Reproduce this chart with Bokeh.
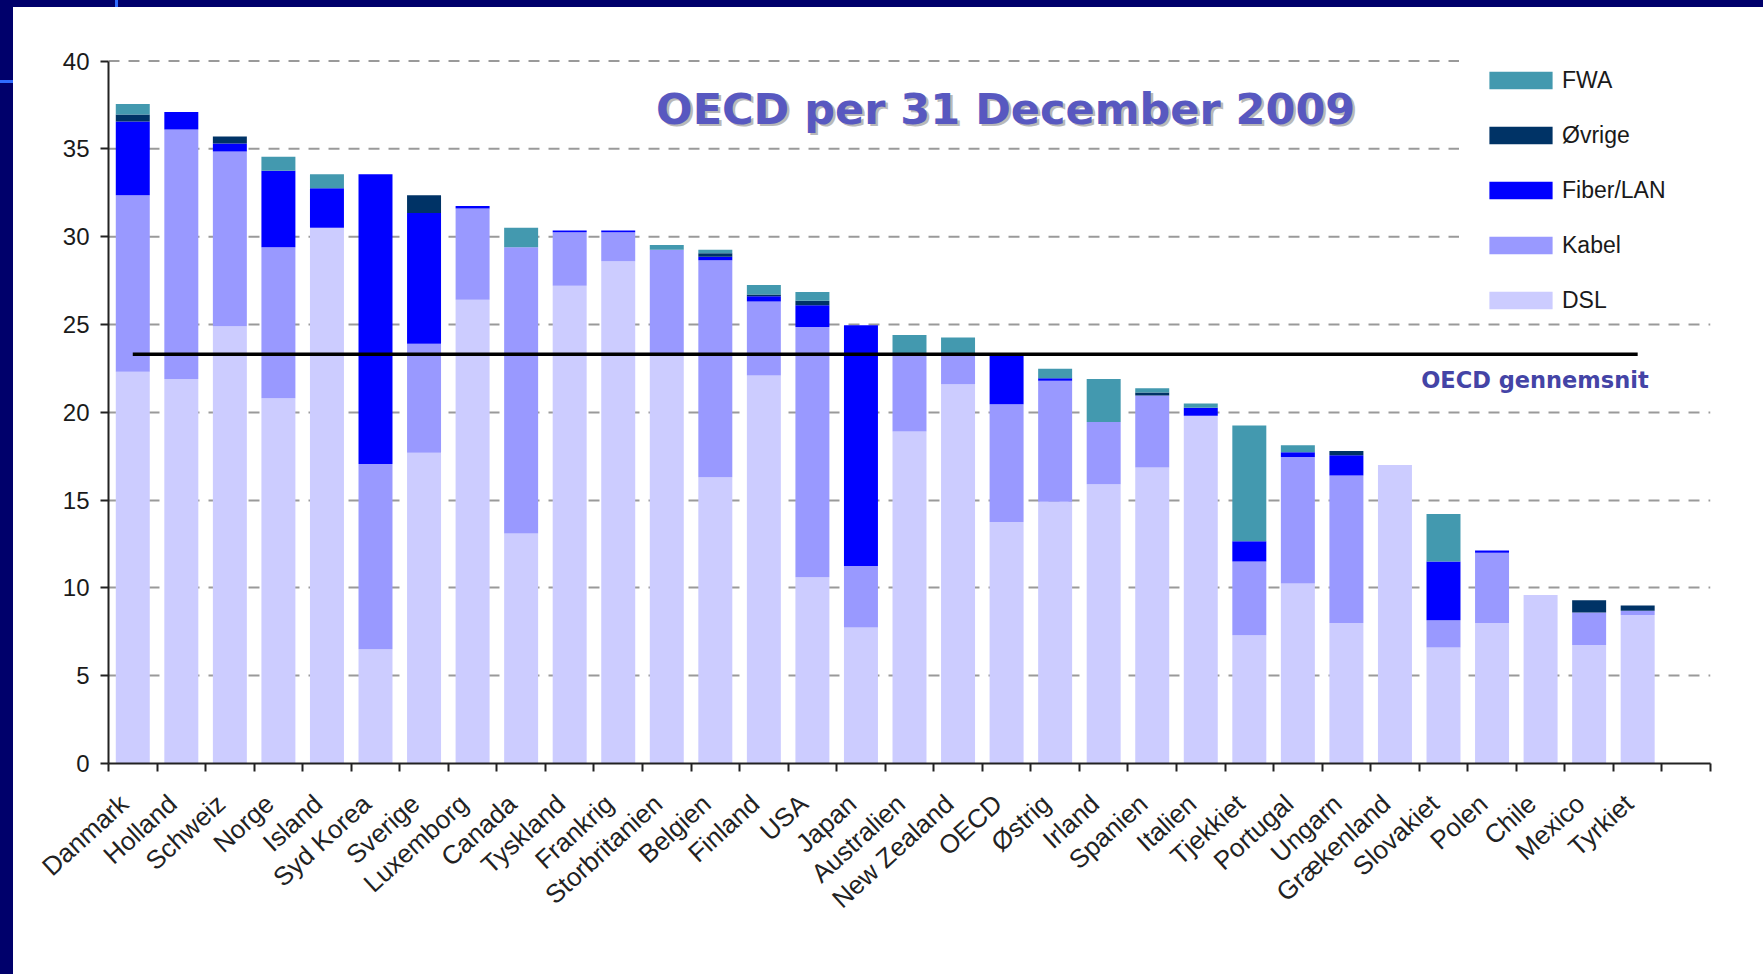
from bokeh.plotting import figure
from bokeh.models import (ColumnDataSource, Range1d, FixedTicker, Legend, LegendItem,
                          Label, GlobalInlineStyleSheet)
from bokeh.embed import file_html
from bokeh.resources import INLINE

# ---------------- data ----------------
countries = ["Danmark", "Holland", "Schweiz", "Norge", "Island", "Syd Korea", "Sverige",
             "Luxemborg", "Canada", "Tyskland", "Frankrig", "Storbritanien", "Belgien",
             "Finland", "USA", "Japan", "Australien", "New Zealand", "OECD", "Østrig",
             "Irland", "Spanien", "Italien", "Tjekkiet", "Portugal", "Ungarn",
             "Grækenland", "Slovakiet", "Polen", "Chile", "Mexico", "Tyrkiet"]

dsl = [22.3, 21.9, 24.9, 20.8, 30.5, 6.5, 17.7, 26.4, 13.1, 27.2, 28.6, 23.2, 16.3,
       22.1, 10.6, 7.75, 18.9, 21.6, 13.75, 14.9, 15.9, 16.85, 19.8, 7.3, 10.25, 8.0,
       17.0, 6.6, 8.0, 9.6, 6.75, 8.45]
kabel = [10.05, 14.2, 9.95, 8.6, 0.0, 10.55, 6.2, 5.2, 16.3, 3.05, 1.65, 6.05, 12.35,
         4.2, 14.25, 3.5, 4.4, 1.7, 6.7, 6.9, 3.55, 4.1, 0.0, 4.2, 7.2, 8.4,
         0.0, 1.55, 4.0, 0.0, 1.85, 0.25]
fiber = [4.2, 1.0, 0.45, 4.35, 2.25, 16.5, 7.45, 0.15, 0.0, 0.1, 0.1, 0.0, 0.2,
         0.3, 1.25, 13.7, 0.0, 0.0, 2.85, 0.13, 0.0, 0.0, 0.45, 1.15, 0.27, 1.15,
         0.0, 3.35, 0.13, 0.0, 0.0, 0.0]
ovrige = [0.4, 0.0, 0.4, 0.0, 0.0, 0.0, 1.0, 0.0, 0.0, 0.0, 0.0, 0.0, 0.2,
          0.1, 0.25, 0.0, 0.0, 0.0, 0.0, 0.0, 0.0, 0.17, 0.0, 0.0, 0.0, 0.25,
          0.0, 0.0, 0.0, 0.0, 0.7, 0.3]
fwa = [0.6, 0.0, 0.0, 0.8, 0.8, 0.0, 0.0, 0.0, 1.1, 0.0, 0.0, 0.27, 0.2,
       0.55, 0.5, 0.0, 1.1, 0.95, 0.0, 0.55, 2.45, 0.25, 0.25, 6.6, 0.4, 0.0,
       0.0, 2.7, 0.0, 0.0, 0.0, 0.0]

oecd_avg = 23.3

series_keys = ["dsl", "kabel", "fiber", "ovrige", "fwa"]
series_names = ["DSL", "Kabel", "Fiber/LAN", "Øvrige", "FWA"]
series_colors = ["#CCCCFF", "#9999FF", "#0000FF", "#003366", "#4399AF"]
y_ticks = [0, 5, 10, 15, 20, 25, 30, 35, 40]

title_text = "OECD per 31 December 2009"
avg_text = "OECD gennemsnit"

# ---------------- figure ----------------
n_slots = len(countries) + 1
xs = [i + 0.5 for i in range(len(countries))]
label_pos = [x - 0.18 for x in xs]   # labels end slightly left of bar centre
legend_edge = 27.82                  # upper grid lines stop before the legend

source = ColumnDataSource(dict(x=xs, dsl=dsl, kabel=kabel, fiber=fiber,
                               ovrige=ovrige, fwa=fwa))

p = figure(width=1749, height=966,
           x_range=Range1d(0, n_slots), y_range=Range1d(0, 40.2),
           output_backend="svg", toolbar_location=None,
           min_border_left=95, min_border_right=52,
           min_border_top=50, min_border_bottom=210)
p.styles = {"margin-left": "13px", "margin-top": "7px"}
p.stylesheets = [GlobalInlineStyleSheet(css=(
    "html{background-color:#ffffff;"
    "background-image:"
    "linear-gradient(to right, transparent 115px, #2f6bff 115px, #2f6bff 118px, transparent 118px),"
    "linear-gradient(to bottom, transparent 80px, #2f6bff 80px, #2f6bff 83px, transparent 83px),"
    "linear-gradient(to right, #00006b 13px, transparent 13px),"
    "linear-gradient(to bottom, #00006b 7px, transparent 7px);"
    "background-size:100% 7px, 13px 100%, 100% 100%, 100% 100%;"
    "background-repeat:no-repeat;min-height:100%;}"
    "body{margin:0;padding:0;overflow:hidden;background:transparent;}"
))]

p.outline_line_color = None
p.background_fill_color = "white"
p.border_fill_color = "white"

# grid: lower lines span the full width, upper ones stop before the legend
grid_color, grid_width, grid_dash = "#9a9a9a", 2, "11 9"
low_ticks = [t for t in y_ticks if 0 < t <= 25]
high_ticks = [t for t in y_ticks if t > 25]
p.xgrid.visible = False
p.ygrid.ticker = FixedTicker(ticks=low_ticks)
p.ygrid.grid_line_color = grid_color
p.ygrid.grid_line_width = grid_width
p.ygrid.grid_line_dash = grid_dash
p.segment(x0=[0] * len(high_ticks), x1=[legend_edge] * len(high_ticks),
          y0=high_ticks, y1=high_ticks, line_color=grid_color,
          line_width=grid_width, line_dash=grid_dash, level="underlay")

# bars
renderers = p.vbar_stack(series_keys, x="x", width=0.7, color=series_colors,
                         line_color=None, source=source)

# OECD average line
p.line(x=[xs[0], xs[-1]], y=[oecd_avg, oecd_avg], line_color="black", line_width=3.5)

# axes
p.yaxis.ticker = FixedTicker(ticks=y_ticks)
p.yaxis.bounds = (0, 40)
p.yaxis.axis_line_width = 2
p.yaxis.axis_line_color = "#222222"
p.yaxis.major_tick_line_width = 2
p.yaxis.major_tick_line_color = "#222222"
p.yaxis.major_tick_out = 8
p.yaxis.major_tick_in = 0
p.yaxis.minor_tick_line_color = None
p.yaxis.major_label_standoff = 11
p.yaxis.major_label_text_font = "Liberation Sans"
p.yaxis.major_label_text_font_size = "24px"
p.yaxis.major_label_text_color = "#1a1a1a"

p.xaxis.ticker = FixedTicker(ticks=label_pos, minor_ticks=list(range(n_slots + 1)))
p.xaxis.major_label_overrides = {x: c for x, c in zip(label_pos, countries)}
p.xaxis.axis_line_width = 2
p.xaxis.axis_line_color = "#222222"
p.xaxis.major_tick_line_color = None
p.xaxis.major_tick_out = 8
p.xaxis.major_tick_in = 0
p.xaxis.minor_tick_line_color = "#222222"
p.xaxis.minor_tick_line_width = 2
p.xaxis.minor_tick_out = 8
p.xaxis.minor_tick_in = 0
p.xaxis.major_label_orientation = 0.74
p.xaxis.major_label_standoff = 28
p.xaxis.major_label_text_font = "Liberation Sans"
p.xaxis.major_label_text_font_size = "26px"
p.xaxis.major_label_text_color = "#222222"

# legend (FWA on top, DSL at bottom)
items = [LegendItem(label=series_names[i], renderers=[renderers[i]])
         for i in reversed(range(len(series_keys)))]
legend = Legend(items=items, location=(1373, 449),
                label_text_font="Liberation Sans", label_text_font_size="23px",
                label_text_color="#1a1a1a",
                glyph_width=79, glyph_height=22, label_height=28,
                spacing=27, label_standoff=2, padding=0, margin=0,
                border_line_color=None, background_fill_alpha=0.0)
p.add_layout(legend)

# title with shadow
for dx, dy, col in [(2.5, -2.5, "#b9b9b9"), (0, 0, "#5858C0")]:
    p.add_layout(Label(x=11.28, y=37.29, x_offset=dx, y_offset=dy, text=title_text,
                       text_font="DejaVu Sans", text_font_style="bold",
                       text_font_size="43px", text_color=col,
                       text_baseline="alphabetic", text_align="left"))

# average label
p.add_layout(Label(x=27.04, y=21.85, text=avg_text,
                   text_font="DejaVu Sans", text_font_style="bold",
                   text_font_size="22.5px", text_color="#4444A6",
                   text_baseline="alphabetic", text_align="left"))

open("out.html", "w").write(file_html(p, INLINE))
